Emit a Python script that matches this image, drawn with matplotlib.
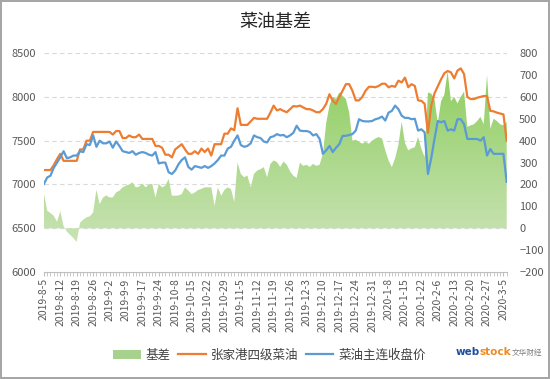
import numpy as np
import matplotlib
matplotlib.use('Agg')
import matplotlib.pyplot as plt
from matplotlib.colors import LinearSegmentedColormap
from matplotlib.lines import Line2D
from matplotlib.patches import Patch
from matplotlib.path import Path
from matplotlib.ticker import MultipleLocator

plt.rcParams['font.family'] = ['Noto Sans CJK SC', 'DejaVu Sans']

# one tick label every 5 trading days
date_labels = ['2019-8-5', '2019-8-12', '2019-8-19', '2019-8-26', '2019-9-2', '2019-9-9',
               '2019-9-17', '2019-9-24', '2019-10-8', '2019-10-15', '2019-10-22', '2019-10-29',
               '2019-11-5', '2019-11-12', '2019-11-19', '2019-11-26', '2019-12-3', '2019-12-10',
               '2019-12-17', '2019-12-24', '2019-12-31', '2020-1-8', '2020-1-15', '2020-1-22',
               '2020-2-6', '2020-2-13', '2020-2-20', '2020-2-27', '2020-3-5']

# 张家港四级菜油 (spot)
spot = [7165, 7165, 7165, 7220, 7290, 7350, 7270, 7270, 7270, 7270,
        7270, 7400, 7400, 7500, 7500, 7600, 7600, 7600, 7600, 7600,
        7600, 7570, 7610, 7610, 7530, 7530, 7560, 7540, 7540, 7570,
        7520, 7520, 7520, 7520, 7440, 7440, 7420, 7340, 7340, 7310,
        7400, 7430, 7460, 7400, 7350, 7350, 7380, 7350, 7410, 7370,
        7410, 7330, 7460, 7460, 7460, 7580, 7580, 7640, 7620, 7870,
        7680, 7680, 7680, 7720, 7760, 7750, 7750, 7750, 7750, 7820,
        7900, 7845, 7860, 7840, 7825, 7860, 7895, 7890, 7900, 7880,
        7860, 7860, 7845, 7825, 7825, 7860, 7920, 8030, 7955, 7920,
        8000, 8070, 8145, 8145, 8070, 7960, 7960, 8000, 8070, 8115,
        8115, 8110, 8125, 8150, 8150, 8110, 8125, 8115, 8185, 8165,
        8220, 8110, 8145, 8125, 7960, 7955, 7920, 7590, 7900, 8040,
        8120, 8200, 8270, 8295, 8280, 8210, 8300, 8325, 8260, 8000,
        7975, 7975, 7990, 8000, 8010, 8010, 7840, 7835, 7820, 7810,
        7800, 7500]

# 菜油主连收盘价 (futures close)
futures = [7005, 7080, 7100, 7190, 7250, 7310, 7380, 7300, 7310, 7330,
           7330, 7380, 7370, 7460, 7450, 7560, 7430, 7500, 7470, 7470,
           7490, 7420, 7490, 7440, 7380, 7370, 7360, 7380, 7340, 7360,
           7370, 7360, 7340, 7330, 7370, 7240, 7250, 7250, 7140, 7120,
           7160, 7230, 7280, 7310, 7200, 7170, 7210, 7200, 7190, 7210,
           7190, 7210, 7240, 7280, 7330, 7330, 7410, 7430, 7500, 7560,
           7450, 7430, 7440, 7470, 7560, 7540, 7530, 7490, 7480, 7540,
           7550, 7575, 7560, 7565, 7540, 7560, 7590, 7670, 7615, 7610,
           7610, 7600, 7560, 7575, 7520, 7350, 7390, 7440, 7370, 7420,
           7460, 7555, 7555, 7565, 7575, 7615, 7745, 7725, 7720, 7720,
           7725, 7745, 7755, 7775, 7730, 7820, 7840, 7900, 7860, 7785,
           7760, 7760, 7745, 7750, 7615, 7630, 7595, 7120, 7300, 7520,
           7725, 7710, 7725, 7615, 7630, 7615, 7745, 7745, 7690, 7520,
           7520, 7520, 7520, 7500, 7540, 7330, 7405, 7350, 7350, 7350,
           7350, 7030]

# 基差 (right axis)
basis = [160, 80, 70, 57, 30, 78, 10, -15, -30, -45,
         -62, 25, 40, 50, 55, 72, 175, 110, 140, 150,
         141, 141, 164, 172, 187, 195, 200, 210, 187, 190,
         205, 187, 200, 203, 141, 203, 187, 195, 225, 149,
         149, 150, 156, 187, 172, 156, 164, 175, 180, 187,
         187, 187, 103, 187, 149, 175, 187, 179, 120, 300,
         248, 233, 241, 187, 248, 264, 270, 279, 233, 294,
         310, 302, 280, 305, 290, 260, 240, 230, 300, 285,
         290, 280, 294, 285, 290, 340, 480, 560, 600, 590,
         620, 605, 590, 530, 400, 405, 395, 386, 395, 386,
         400, 410, 417, 410, 356, 310, 279, 320, 380, 486,
         390, 356, 365, 370, 417, 363, 325, 620, 615, 590,
         480, 580, 610, 716, 580, 600, 570, 600, 624, 463,
         470, 475, 490, 509, 475, 700, 455, 500, 490, 475,
         470, 486]

x = np.arange(len(spot))
tick_col = '#595959'

fig = plt.figure(figsize=(5.5, 3.79), dpi=100)
fig.patch.set_edgecolor('#a6a6a6')
fig.patch.set_linewidth(1.5)

axb = fig.add_axes([0.0798, 0.282, 0.8415, 0.578])
axp = axb.twinx()

# basis area, filled with a vertical gradient
poly = axb.fill_between(x, 0, basis, facecolor='none', edgecolor='none')
clip = Path.make_compound_path(*poly.get_paths())
grad = np.linspace(0, 1, 256).reshape(-1, 1)
cmap = LinearSegmentedColormap.from_list('basis', ['#c9e3b5', '#8fce60'])
im = axb.imshow(grad, extent=[0, len(x) - 1, -70, 720], origin='lower',
                aspect='auto', cmap=cmap, zorder=1)
im.set_clip_path(clip, axb.transData)

for v in range(0, 801, 200):
    axb.axhline(v, color='#d9d9d9', lw=0.8, ls=(0, (4, 3)), zorder=0)

axb.set_xlim(0, len(x) - 1)
axb.set_ylim(-200, 800)
axb.set_yticks(range(-200, 801, 100))
axb.yaxis.tick_right()

axp.plot(x, spot, color='#ed7d31', lw=1.6)
axp.plot(x, futures, color='#5b9bd5', lw=1.6)
axp.set_ylim(6000, 8500)
axp.set_yticks(range(6000, 8501, 500))
axp.yaxis.tick_left()

axb.set_xticks(x[::5])
axb.set_xticklabels(date_labels, rotation=90, fontsize=7.5)
axb.xaxis.set_minor_locator(MultipleLocator(1))
axb.tick_params(axis='x', which='both', length=3, color='#bfbfbf',
                labelcolor=tick_col, pad=1.5)
axb.tick_params(axis='y', length=0, labelsize=8, labelcolor=tick_col, pad=9)
axp.tick_params(axis='y', length=0, labelsize=8, labelcolor=tick_col, pad=6)

for ax in (axb, axp):
    for s in ['top', 'left', 'right']:
        ax.spines[s].set_visible(False)
axp.spines['bottom'].set_visible(False)
axb.spines['bottom'].set_color('#bfbfbf')

fig.text(0.5, 0.942, '菜油基差', ha='center', va='center', fontsize=13, color='#262626')

handles = [Patch(facecolor='#a9d18e', edgecolor='none'),
           Line2D([], [], color='#ed7d31', lw=1.6),
           Line2D([], [], color='#5b9bd5', lw=1.6)]
fig.legend(handles, ['基差', '张家港四级菜油', '菜油主连收盘价'], loc='center',
           bbox_to_anchor=(0.49, 0.063), ncol=3, frameon=False, fontsize=9,
           handlelength=2.2, handletextpad=0.4, columnspacing=0.6,
           labelcolor='#404040')

# logo
fig.text(0.828, 0.072, 'web', color='#1c4f9c', fontsize=7.5, fontweight='bold',
         family='DejaVu Sans', ha='left', va='center')
fig.text(0.872, 0.072, 'stock', color='#f08a24', fontsize=7.5, fontweight='bold',
         family='DejaVu Sans', ha='left', va='center')
fig.text(0.93, 0.068, '文华财经', color='#7f7f7f', fontsize=5.5, ha='left', va='center')

fig.savefig('out.png', dpi=100)
